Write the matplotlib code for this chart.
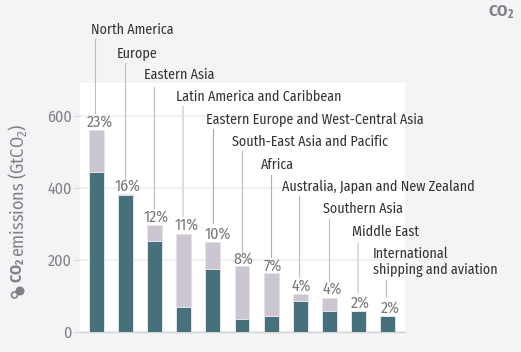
import matplotlib
matplotlib.use('Agg')
import matplotlib.pyplot as plt
from matplotlib import font_manager as fm
from matplotlib.patches import Circle

# ── data ──────────────────────────────────────────────────────────────────────
regions = ['North America', 'Europe', 'Eastern Asia', 'Latin America and Caribbean',
           'Eastern Europe and West-Central Asia', 'South-East Asia and Pacific', 'Africa',
           'Australia, Japan and New Zealand', 'Southern Asia', 'Middle East',
           'International\nshipping and aviation']
fossil = [442, 378, 252, 67, 175, 36, 44, 84, 58, 56, 42]
landuse = [117, 3, 43, 204, 75, 145, 118, 19, 35, 1, 1]
shares = ['23%', '16%', '12%', '11%', '10%', '8%', '7%', '4%', '4%', '2%', '2%']
yticks = [0, 200, 400, 600]

# ── layout in reference pixels ────────────────────────────────────────────────
W, H = 521, 352
label_x = [90.7, 117, 144.3, 175.7, 206, 232, 261, 282, 322.7, 352, 373]
label_y = [29.5, 53, 75, 97, 120, 142, 165, 187, 209, 232, 261.5]
share_x = [100, 128, 155.7, 186.7, 218, 243.7, 273.3, 301.7, 332, 360, 390]
share_y = [122, 186.5, 216.7, 225, 234, 259, 266, 285.7, 289, 303, 307.7]
lead_x = [95.3, 124.6, 153.5, 183, 212.5, 241.5, 270.7, 299.3, 329.3, 358, 386.3]
lead_top = [39, 63, 87, 107, 129, 151, 175, 196, 219, 244, 280]
lead_bot = [112.7, 179, 208, 216, 223, 253, 257, 277, 280.7, 291.7, 296.7]
lead_col = ['#bdbdbd', '#bdbdbd', '#bdbdbd', '#dcdcdc', '#a8a8a8', '#bdbdbd',
            '#b0b0b0', '#bdbdbd', '#bdbdbd', '#dcdcdc', '#bdbdbd']
lead_lw = [0.8, 0.8, 0.8, 1.4, 0.8, 0.8, 0.8, 0.8, 0.8, 1.4, 0.8]

BG = '#f3f4f6'
DARK = '#47707d'
LIGHT = '#cbc6d1'
EDGE = '#e6e3ea'
TEXT = '#333335'
MUTED = '#808285'

names = {f.name for f in fm.fontManager.ttflist}
FONT = 'Roboto'
for cand in ['Fira Sans Condensed', 'Open Sans Condensed', 'IBM Plex Sans Condensed', 'Roboto Condensed']:
    if cand in names:
        FONT = cand
        break
plt.rcParams['font.family'] = [FONT, 'DejaVu Sans']
plt.rcParams['mathtext.fontset'] = 'custom'
plt.rcParams['mathtext.rm'] = FONT
plt.rcParams['mathtext.bf'] = FONT + ':bold'
plt.rcParams['mathtext.default'] = 'rm'


def fx(x):
    return x / W


def fy(y):
    return 1 - y / H


fig = plt.figure(figsize=(W / 100, H / 100), dpi=100, facecolor=BG)
ax = fig.add_axes([fx(80), fy(331.5), (405 - 80) / W, (331.5 - 83) / H], facecolor='white')

x = list(range(len(regions)))
ax.bar(x, fossil, width=0.51, color=DARK, edgecolor=EDGE, linewidth=0.7, zorder=3)
ax.bar(x, landuse, bottom=fossil, width=0.51, color=LIGHT, edgecolor=EDGE, linewidth=0.7, zorder=3)

ax.set_xlim(-0.567, 10.6)
ax.set_ylim(0, 248.5 / 0.36)
ax.set_xticks([])
ax.set_yticks(yticks)
ax.tick_params(axis='y', length=4, width=1, color='#dcdcdc', labelcolor=MUTED, labelsize=11.5, pad=2)
ax.grid(axis='y', color='#efefef', lw=1.2, zorder=0)
ax.set_axisbelow(True)
for side in ['top', 'right', 'left']:
    ax.spines[side].set_visible(False)
ax.spines['bottom'].set_color('#d4d4d4')
ax.spines['bottom'].set_linewidth(1)

# leader lines and labels, text may run past the white panel
for i, name in enumerate(regions):
    fig.add_artist(plt.Line2D([fx(lead_x[i])] * 2, [fy(lead_top[i]), fy(lead_bot[i])],
                              color=lead_col[i], lw=lead_lw[i]))
    fig.text(fx(label_x[i]), fy(label_y[i]), name, color=TEXT, fontsize=10.1,
             ha='left', va='center', linespacing=1.14)
    fig.text(fx(share_x[i]), fy(share_y[i]), shares[i], color='#77787b', fontsize=11.5,
             ha='center', va='center')

# y axis title with the little CO2 icon
fig.text(fx(18), fy(270), r'$\mathbf{CO_2}$', color=MUTED, fontsize=11.5,
         rotation=90, ha='center', va='center')
fig.text(fx(18), fy(190), r'emissions (GtCO$_2$)', color=MUTED, fontsize=13,
         rotation=90, ha='center', va='center')
fig.add_artist(Circle((20, 352 - 291), 4.5, transform=None, facecolor=MUTED, edgecolor='none'))
fig.add_artist(Circle((14.5, 352 - 295), 3, transform=None, facecolor=BG, edgecolor=MUTED, lw=1.2))

fig.text(fx(501), fy(12), r'$\mathbf{CO_2}$', color=MUTED, fontsize=12,
         ha='center', va='center')

fig.savefig('out.png', dpi=100, facecolor=BG)
